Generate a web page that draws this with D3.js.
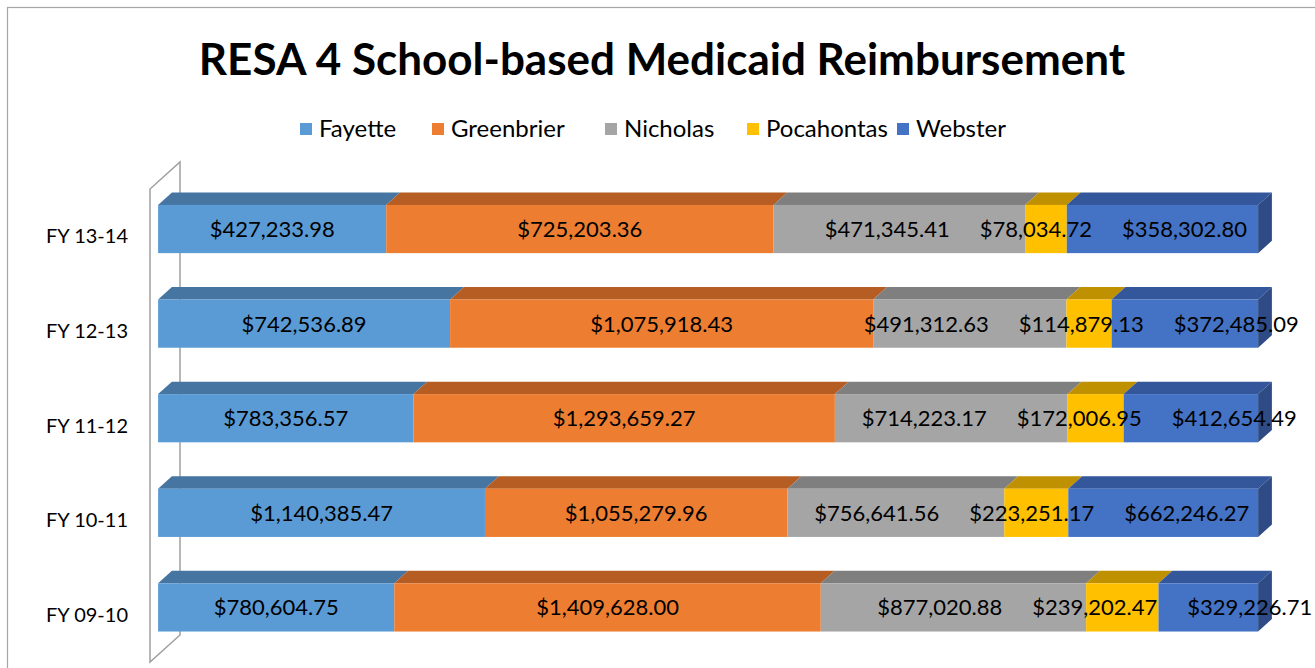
<!DOCTYPE html>
<html>
<head>
<meta charset="utf-8">
<script src="https://d3js.org/d3.v7.min.js"></script>
<style>
  body { margin: 0; background: #fff; }
  text { font-family: Lato, "Open Sans", sans-serif; fill: #000; }
</style>
</head>
<body>
<div id="chart"></div>
<script>
// data
const categories = ["FY 13-14", "FY 12-13", "FY 11-12", "FY 10-11", "FY 09-10"];
const counties = ["Fayette", "Greenbrier", "Nicholas", "Pocahontas", "Webster"];
const fayette    = [427233.98, 742536.89, 783356.57, 1140385.47, 780604.75];
const greenbrier = [725203.36, 1075918.43, 1293659.27, 1055279.96, 1409628.00];
const nicholas   = [471345.41, 491312.63, 714223.17, 756641.56, 877020.88];
const pocahontas = [78034.72, 114879.13, 172006.95, 223251.17, 239202.47];
const webster    = [358302.80, 372485.09, 412654.49, 662246.27, 329226.71];

const frontColors = ["#5b9bd5", "#ed7d31", "#a5a5a5", "#ffc000", "#4472c4"];
const topColors   = ["#4675a1", "#b55d23", "#7f7f7f", "#bf9000", "#34569a"];
const sideColor   = "#2e4b85";

const width = 1315, height = 668;
const svg = d3.select("#chart").append("svg")
    .attr("width", width)
    .attr("height", height);

// chart border (only left & top visible in the crop)
svg.append("rect")
    .attr("x", 7.5).attr("y", 7.5)
    .attr("width", width + 20).attr("height", height + 20)
    .attr("fill", "none")
    .attr("stroke", "#a6a6a6")
    .attr("stroke-width", 1.2);

// title
svg.append("text")
    .attr("x", 662).attr("y", 75)
    .attr("text-anchor", "middle")
    .style("font-size", "44px")
    .style("font-weight", "bold")
    .text("RESA 4 School-based Medicaid Reimbursement");

// table for stacking
const series = [fayette, greenbrier, nicholas, pocahontas, webster];
const rows = categories.map((c, i) => {
    const r = {cat: c};
    counties.forEach((k, j) => r[k] = series[j][i]);
    return r;
});
const stacked = d3.stack().keys(counties).offset(d3.stackOffsetExpand)(rows);

// 3d projection: depth z in [0,1] shifts right and up
const depthX = 30, depthY = 27;
const zFront = 0.27, zBack = 0.73;
const proj = (x, y, z) => [x + depthX * z, y - depthY * z];

const xScale = d3.scaleLinear().domain([0, 1]).range([150, 1250]);
const yScale = d3.scaleBand().domain(categories)
    .range([189, 662])
    .paddingInner(0.49)
    .paddingOuter(0.245);
const bw = yScale.bandwidth();

// left wall
const wx = xScale(0), wy0 = yScale.range()[0], wy1 = yScale.range()[1];
const wall = [proj(wx, wy1, 0), proj(wx, wy0, 0), proj(wx, wy0, 1), proj(wx, wy1, 1)];
svg.append("path")
    .attr("d", "M" + wall.map(p => p.join(",")).join("L") + "Z")
    .attr("fill", "none")
    .attr("stroke", "#a0a0a0")
    .attr("stroke-width", 1.5);

// category labels on the front plane
svg.append("g").selectAll("text")
    .data(categories)
    .join("text")
    .attr("x", wx - 22)
    .attr("y", d => yScale(d) + bw / 2 + 7)
    .attr("text-anchor", "end")
    .style("font-size", "20px")
    .text(d => d);

const poly = pts => "M" + pts.map(p => p.join(",")).join("L") + "Z";
const bars = svg.append("g");

stacked.forEach((layer, j) => {
    layer.forEach((d, i) => {
        const cat = categories[i];
        const x0 = xScale(d[0]), x1 = xScale(d[1]);
        const yt = yScale(cat), yb = yt + bw;
        // top face
        bars.append("path")
            .attr("d", poly([proj(x0, yt, zFront), proj(x0, yt, zBack), proj(x1, yt, zBack), proj(x1, yt, zFront)]))
            .attr("fill", topColors[j]);
        // front face
        const f0 = proj(x0, yt, zFront), f1 = proj(x1, yb, zFront);
        bars.append("rect")
            .attr("x", f0[0]).attr("y", f0[1])
            .attr("width", f1[0] - f0[0]).attr("height", f1[1] - f0[1])
            .attr("fill", frontColors[j]);
        // right side of the last segment
        if (j === counties.length - 1) {
            bars.append("path")
                .attr("d", poly([proj(x1, yt, zFront), proj(x1, yt, zBack), proj(x1, yb, zBack), proj(x1, yb, zFront)]))
                .attr("fill", sideColor);
        }
    });
});

// data labels, centred on each front face then pushed apart when they collide
const fmt = d3.format("$,.2f");
const labelGroup = svg.append("g");
categories.forEach((cat, i) => {
    const yc = yScale(cat) + bw / 2 - depthY * zFront;
    const items = stacked.map((layer, j) => {
        const d = layer[i];
        const cx = (xScale(d[0]) + xScale(d[1])) / 2 + depthX * zFront;
        const t = labelGroup.append("text")
            .attr("y", yc + 8)
            .attr("text-anchor", "middle")
            .style("font-size", "22px")
            .text(fmt(series[j][i]));
        return {t: t, x: cx, w: t.node().getComputedTextLength()};
    });
    const gap = 30;
    for (let it = 0; it < 200; it++) {
        for (let k = 0; k < items.length - 1; k++) {
            const a = items[k], b = items[k + 1];
            const need = (a.w + b.w) / 2 + gap;
            const have = b.x - a.x;
            if (have < need) {
                const push = (need - have) / 2;
                a.x -= push;
                b.x += push;
            }
        }
    }
    items.forEach(o => o.t.attr("x", o.x));
});

// legend
const legendX = [300, 432, 605, 747, 897];
const legend = svg.append("g").selectAll("g")
    .data(counties)
    .join("g")
    .attr("transform", (d, j) => "translate(" + legendX[j] + ",129)");
legend.append("rect")
    .attr("x", 0).attr("y", -6)
    .attr("width", 12).attr("height", 12)
    .attr("fill", (d, j) => frontColors[j]);
legend.append("text")
    .attr("x", 19).attr("y", 8)
    .style("font-size", "24px")
    .text(d => d);
</script>
</body>
</html>
